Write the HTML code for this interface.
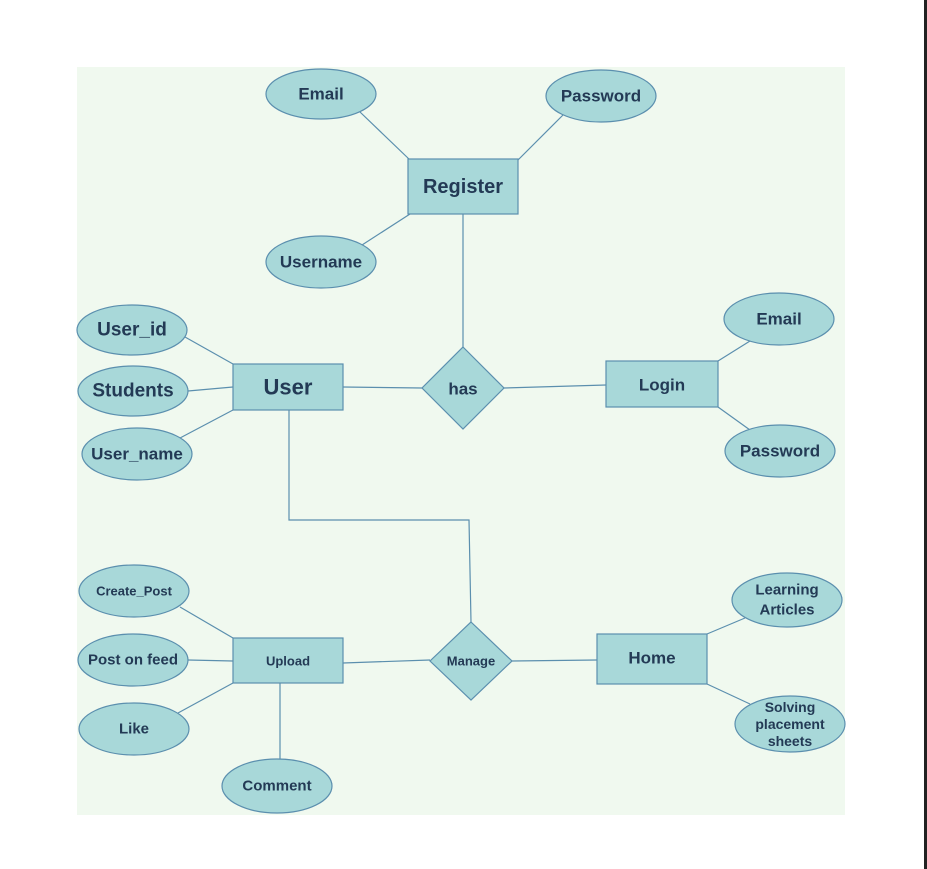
<!DOCTYPE html>
<html><head><meta charset="utf-8"><style>
html,body{margin:0;padding:0;background:#fff;width:927px;height:869px;overflow:hidden}
svg{display:block}
text{font-family:"Liberation Sans",Arial,sans-serif;font-weight:bold;fill:#233a55;text-anchor:middle;dominant-baseline:central}
</style></head><body>
<svg width="927" height="869" viewBox="0 0 927 869">
<rect x="0" y="0" width="927" height="869" fill="#fff"/>
<rect x="77" y="67" width="768" height="748" fill="#f0f9ef"/>
<rect x="924" y="0" width="3" height="869" fill="#222"/>
<g stroke="#5b8fae" stroke-width="1.2" fill="none">
<line x1="360" y1="112" x2="410" y2="160"/>
<line x1="563" y1="115" x2="518" y2="160"/>
<line x1="362" y1="245" x2="410" y2="214"/>
<line x1="463" y1="214" x2="463" y2="348"/>
<line x1="343" y1="387" x2="422" y2="388"/>
<line x1="504" y1="388" x2="606" y2="385"/>
<line x1="718" y1="361" x2="750" y2="341"/>
<line x1="718" y1="407" x2="750" y2="430"/>
<line x1="185" y1="337" x2="233" y2="364"/>
<line x1="188" y1="391" x2="233" y2="387"/>
<line x1="180" y1="438" x2="233" y2="410"/>
<polyline points="289,410 289,520 469,520 471,622"/>
<line x1="180" y1="607" x2="233" y2="638"/>
<line x1="188" y1="660" x2="233" y2="661"/>
<line x1="178" y1="713" x2="233" y2="683"/>
<line x1="280" y1="683" x2="280" y2="760"/>
<line x1="343" y1="663" x2="430" y2="660"/>
<line x1="512" y1="661" x2="597" y2="660"/>
<line x1="707" y1="634" x2="745" y2="618"/>
<line x1="707" y1="684" x2="750" y2="704"/>
</g>
<g fill="#a8d8d9" stroke="#5b8fae" stroke-width="1.2">
<rect x="408" y="159" width="110" height="55"/>
<ellipse cx="321" cy="94" rx="55" ry="25"/>
<ellipse cx="601" cy="96" rx="55" ry="26"/>
<ellipse cx="321" cy="262" rx="55" ry="26"/>
<polygon points="463,347 504,388 463,429 422,388"/>
<rect x="606" y="361" width="112" height="46"/>
<ellipse cx="779" cy="319" rx="55" ry="26"/>
<ellipse cx="780" cy="451" rx="55" ry="26"/>
<rect x="233" y="364" width="110" height="46"/>
<ellipse cx="132" cy="330" rx="55" ry="25"/>
<ellipse cx="133" cy="391" rx="55" ry="25"/>
<ellipse cx="137" cy="454" rx="55" ry="26"/>
<polygon points="471,622 512,661 471,700 430,661"/>
<rect x="233" y="638" width="110" height="45"/>
<ellipse cx="134" cy="591" rx="55" ry="26"/>
<ellipse cx="133" cy="660" rx="55" ry="26"/>
<ellipse cx="134" cy="729" rx="55" ry="26"/>
<ellipse cx="277" cy="786" rx="55" ry="27"/>
<rect x="597" y="634" width="110" height="50"/>
<ellipse cx="787" cy="600" rx="55" ry="27"/>
<ellipse cx="790" cy="724" rx="55" ry="28"/>
</g>
<text x="463" y="187" font-size="20">Register</text>
<text x="321" y="94" font-size="17">Email</text>
<text x="601" y="96" font-size="17">Password</text>
<text x="321" y="262" font-size="17">Username</text>
<text x="463" y="389" font-size="17">has</text>
<text x="662" y="385" font-size="17">Login</text>
<text x="779" y="319" font-size="17">Email</text>
<text x="780" y="451" font-size="17">Password</text>
<text x="288" y="387" font-size="22">User</text>
<text x="132" y="330" font-size="19">User_id</text>
<text x="133" y="391" font-size="19">Students</text>
<text x="137" y="454" font-size="17">User_name</text>
<text x="471" y="661" font-size="13">Manage</text>
<text x="288" y="661" font-size="13">Upload</text>
<text x="134" y="591" font-size="13">Create_Post</text>
<text x="133" y="660" font-size="15">Post on feed</text>
<text x="134" y="729" font-size="15">Like</text>
<text x="277" y="786" font-size="15">Comment</text>
<text x="652" y="658" font-size="17">Home</text>
<text x="787" y="590" font-size="15">Learning</text>
<text x="787" y="610" font-size="15">Articles</text>
<text x="790" y="707" font-size="14">Solving</text>
<text x="790" y="724" font-size="14">placement</text>
<text x="790" y="741" font-size="14">sheets</text>
</svg>
</body></html>
